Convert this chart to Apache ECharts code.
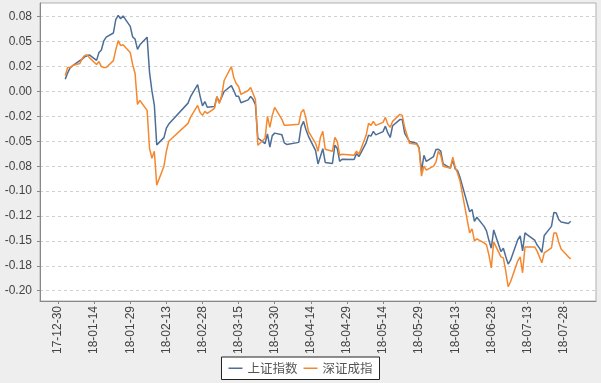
<!DOCTYPE html>
<html>
<head>
<meta charset="utf-8">
<script src="https://cdn.jsdelivr.net/npm/echarts@6/dist/echarts.min.js"></script>
<style>
html,body{margin:0;padding:0;background:#eeeeee;}
#chart{width:601px;height:383px;}
</style>
</head>
<body>
<div id="chart"></div>
<script>
// Trading dates
const dates = [
'2018-01-02','2018-01-03','2018-01-04','2018-01-05','2018-01-08','2018-01-09','2018-01-10','2018-01-11','2018-01-12','2018-01-15','2018-01-16','2018-01-17','2018-01-18','2018-01-19','2018-01-22','2018-01-23','2018-01-24','2018-01-25','2018-01-26','2018-01-29','2018-01-30','2018-01-31',
'2018-02-01','2018-02-02','2018-02-05','2018-02-06','2018-02-07','2018-02-08','2018-02-09','2018-02-12','2018-02-13','2018-02-14','2018-02-22','2018-02-23','2018-02-26','2018-02-27','2018-02-28',
'2018-03-01','2018-03-02','2018-03-05','2018-03-06','2018-03-07','2018-03-08','2018-03-09','2018-03-12','2018-03-13','2018-03-14','2018-03-15','2018-03-16','2018-03-19','2018-03-20','2018-03-21','2018-03-22','2018-03-23','2018-03-26','2018-03-27','2018-03-28','2018-03-29','2018-03-30',
'2018-04-02','2018-04-03','2018-04-04','2018-04-09','2018-04-10','2018-04-11','2018-04-12','2018-04-13','2018-04-16','2018-04-17','2018-04-18','2018-04-19','2018-04-20','2018-04-23','2018-04-24','2018-04-25','2018-04-26','2018-04-27',
'2018-05-02','2018-05-03','2018-05-04','2018-05-07','2018-05-08','2018-05-09','2018-05-10','2018-05-11','2018-05-14','2018-05-15','2018-05-16','2018-05-17','2018-05-18','2018-05-21','2018-05-22','2018-05-23','2018-05-24','2018-05-25','2018-05-28','2018-05-29','2018-05-30','2018-05-31',
'2018-06-01','2018-06-04','2018-06-05','2018-06-06','2018-06-07','2018-06-08','2018-06-11','2018-06-12','2018-06-13','2018-06-14','2018-06-15','2018-06-19','2018-06-20','2018-06-21','2018-06-22','2018-06-25','2018-06-26','2018-06-27','2018-06-28','2018-06-29',
'2018-07-02','2018-07-03','2018-07-04','2018-07-05','2018-07-06','2018-07-09','2018-07-10','2018-07-11','2018-07-12','2018-07-13','2018-07-16','2018-07-17','2018-07-18','2018-07-19','2018-07-20','2018-07-23','2018-07-24','2018-07-25','2018-07-26','2018-07-27','2018-07-30','2018-07-31'
];

// 上证指数 cumulative return
const shValues = [
0.0124,0.0187,0.0237,0.0256,0.0309,0.0323,0.0347,0.0357,0.0368,0.0312,0.0391,0.0416,0.0507,0.0546,0.0587,0.0724,0.0763,0.0729,0.0759,0.0653,0.0547,0.0525,
0.0423,0.0468,0.0545,0.0192,0.0006,-0.0136,-0.0536,-0.0463,-0.0369,-0.0327,-0.0117,-0.0055,0.0068,-0.0046,-0.0144,
-0.0101,-0.0159,-0.0152,-0.0053,-0.0107,-0.0057,0.0000,0.0059,0.0009,-0.0048,-0.0048,-0.0113,-0.0084,-0.0050,-0.0079,-0.0132,-0.0467,-0.0524,-0.0425,-0.0559,-0.0443,-0.0418,
-0.0435,-0.0516,-0.0532,-0.0511,-0.0353,-0.0300,-0.0384,-0.0448,-0.0594,-0.0727,-0.0652,-0.0574,-0.0712,-0.0723,-0.0539,-0.0572,-0.0702,-0.0680,
-0.0683,-0.0624,-0.0653,-0.0516,-0.0440,-0.0448,-0.0401,-0.0435,-0.0403,-0.0348,-0.0416,-0.0462,-0.0344,-0.0282,-0.0281,-0.0418,-0.0461,-0.0502,-0.0520,-0.0565,-0.0803,-0.0640,
-0.0702,-0.0653,-0.0583,-0.0580,-0.0598,-0.0726,-0.0769,-0.0687,-0.0778,-0.0795,-0.0862,-0.1207,-0.1184,-0.1304,-0.1262,-0.1354,-0.1399,-0.1494,-0.1573,-0.1390,
-0.1607,-0.1573,-0.1657,-0.1733,-0.1693,-0.1488,-0.1450,-0.1601,-0.1420,-0.1439,-0.1491,-0.1539,-0.1572,-0.1616,-0.1445,-0.1354,-0.1214,-0.1220,-0.1285,-0.1311,-0.1325,-0.1302
];

// 深证成指 cumulative return
const szValues = [
0.016,0.024,0.024,0.026,0.028,0.033,0.036,0.037,0.034,0.027,0.030,0.025,0.024,0.024,0.031,0.042,0.051,0.046,0.047,0.039,0.027,0.018,
-0.013,-0.009,-0.019,-0.057,-0.067,-0.060,-0.094,-0.075,-0.060,-0.050,-0.032,-0.026,-0.014,-0.021,-0.024,
-0.020,-0.022,-0.017,-0.005,-0.012,-0.004,0.011,0.025,0.014,0.008,0.005,-0.003,0.001,0.004,-0.002,-0.008,-0.054,-0.047,-0.025,-0.036,-0.024,-0.016,
-0.028,-0.034,-0.034,-0.033,-0.021,-0.018,-0.027,-0.040,-0.052,-0.060,-0.046,-0.040,-0.058,-0.060,-0.046,-0.050,-0.064,-0.063,
-0.064,-0.060,-0.063,-0.044,-0.032,-0.034,-0.030,-0.034,-0.031,-0.026,-0.033,-0.036,-0.030,-0.023,-0.024,-0.036,-0.044,-0.052,-0.053,-0.057,-0.085,-0.075,
-0.079,-0.075,-0.071,-0.060,-0.064,-0.075,-0.077,-0.066,-0.076,-0.082,-0.090,-0.142,-0.138,-0.150,-0.148,-0.152,-0.154,-0.164,-0.177,-0.151,
-0.166,-0.167,-0.180,-0.196,-0.191,-0.170,-0.166,-0.182,-0.156,-0.156,-0.156,-0.160,-0.166,-0.172,-0.162,-0.157,-0.142,-0.142,-0.151,-0.158,-0.166,-0.168
];

const seriesNames = ['上证指数', '深证成指'];

// X tick dates and labels
const xTickDates = ['2017-12-30','2018-01-14','2018-01-29','2018-02-13','2018-02-28','2018-03-15','2018-03-30','2018-04-14','2018-04-29','2018-05-14','2018-05-29','2018-06-13','2018-06-28','2018-07-13','2018-07-28'];
const xTickLabels = ['17-12-30','18-01-14','18-01-29','18-02-13','18-02-28','18-03-15','18-03-30','18-04-14','18-04-29','18-05-14','18-05-29','18-06-13','18-06-28','18-07-13','18-07-28'];

// Y ticks and labels
const yTickValues = [-0.2,-0.175,-0.15,-0.125,-0.1,-0.075,-0.05,-0.025,0,0.025,0.05,0.075];
const yTickLabels = ['-0.20','-0.18','-0.15','-0.12','-0.10','-0.08','-0.05','-0.02','0.00','0.02','0.05','0.08'];

function ts(s, h) {
  const p = s.split('-').map(Number);
  return Date.UTC(p[0], p[1]-1, p[2], h || 0);
}
const xTickTs = xTickDates.map(d => ts(d));
const xMin = ts('2017-12-22', 12);
const xMax = ts('2018-08-10', 12);

function nearestIndex(arr, v) {
  let best = 0, bd = Infinity;
  arr.forEach((t, i) => { const d = Math.abs(t - v); if (d < bd) { bd = d; best = i; } });
  return best;
}

const chart = echarts.init(document.getElementById('chart'), null, {renderer: 'canvas'});
chart.setOption({
  backgroundColor: '#eeeeee',
  animation: false,
  textStyle: {fontFamily: 'Liberation Sans, Arial, sans-serif'},
  grid: {left: 40, right: 5, top: 3, bottom: 82, show: true, backgroundColor: '#ffffff', borderColor: '#b0b0b0', borderWidth: 1},
  legend: {
    data: seriesNames,
    left: 'center',
    top: 357,
    icon: 'rect',
    itemWidth: 14,
    itemHeight: 1.5,
    itemGap: 6,
    padding: [5, 7],
    borderColor: '#222',
    borderWidth: 1,
    backgroundColor: '#ffffff',
    borderRadius: 0,
    textStyle: {fontFamily: 'Noto Sans CJK SC', fontSize: 12.5, color: '#555'}
  },
  xAxis: {
    type: 'value',
    min: xMin,
    max: xMax,
    axisLine: {show: true, onZero: false, lineStyle: {color: '#888', width: 1}},
    axisTick: {show: true, length: 3, customValues: xTickTs, lineStyle: {color: '#888'}},
    axisLabel: {
      customValues: xTickTs,
      rotate: 90,
      fontSize: 12,
      color: '#444',
      margin: 5,
      hideOverlap: false,
      formatter: function (v) { return xTickLabels[nearestIndex(xTickTs, v)]; }
    },
    splitLine: {show: false}
  },
  yAxis: {
    type: 'value',
    min: -0.2103,
    max: 0.0888,
    axisLine: {show: true, lineStyle: {color: '#888', width: 1}},
    axisTick: {show: true, length: 3, customValues: yTickValues, lineStyle: {color: '#888'}},
    axisLabel: {
      customValues: yTickValues,
      fontSize: 12,
      color: '#444',
      margin: 8,
      formatter: function (v) { return yTickLabels[nearestIndex(yTickValues, v)]; }
    },
    splitLine: {show: true, lineStyle: {color: '#d0d0d0', type: [3, 3], width: 1}}
  },
  series: [
    {
      name: seriesNames[0], type: 'line', showSymbol: false, symbol: 'none',
      data: dates.map((d, i) => [ts(d), shValues[i]]),
      lineStyle: {color: '#4d6e96', width: 1.5}, itemStyle: {color: '#4d6e96'}
    },
    {
      name: seriesNames[1], type: 'line', showSymbol: false, symbol: 'none',
      data: dates.map((d, i) => [ts(d), szValues[i]]),
      lineStyle: {color: '#f5882e', width: 1.5}, itemStyle: {color: '#f5882e'}
    }
  ]
});
</script>
</body>
</html>
